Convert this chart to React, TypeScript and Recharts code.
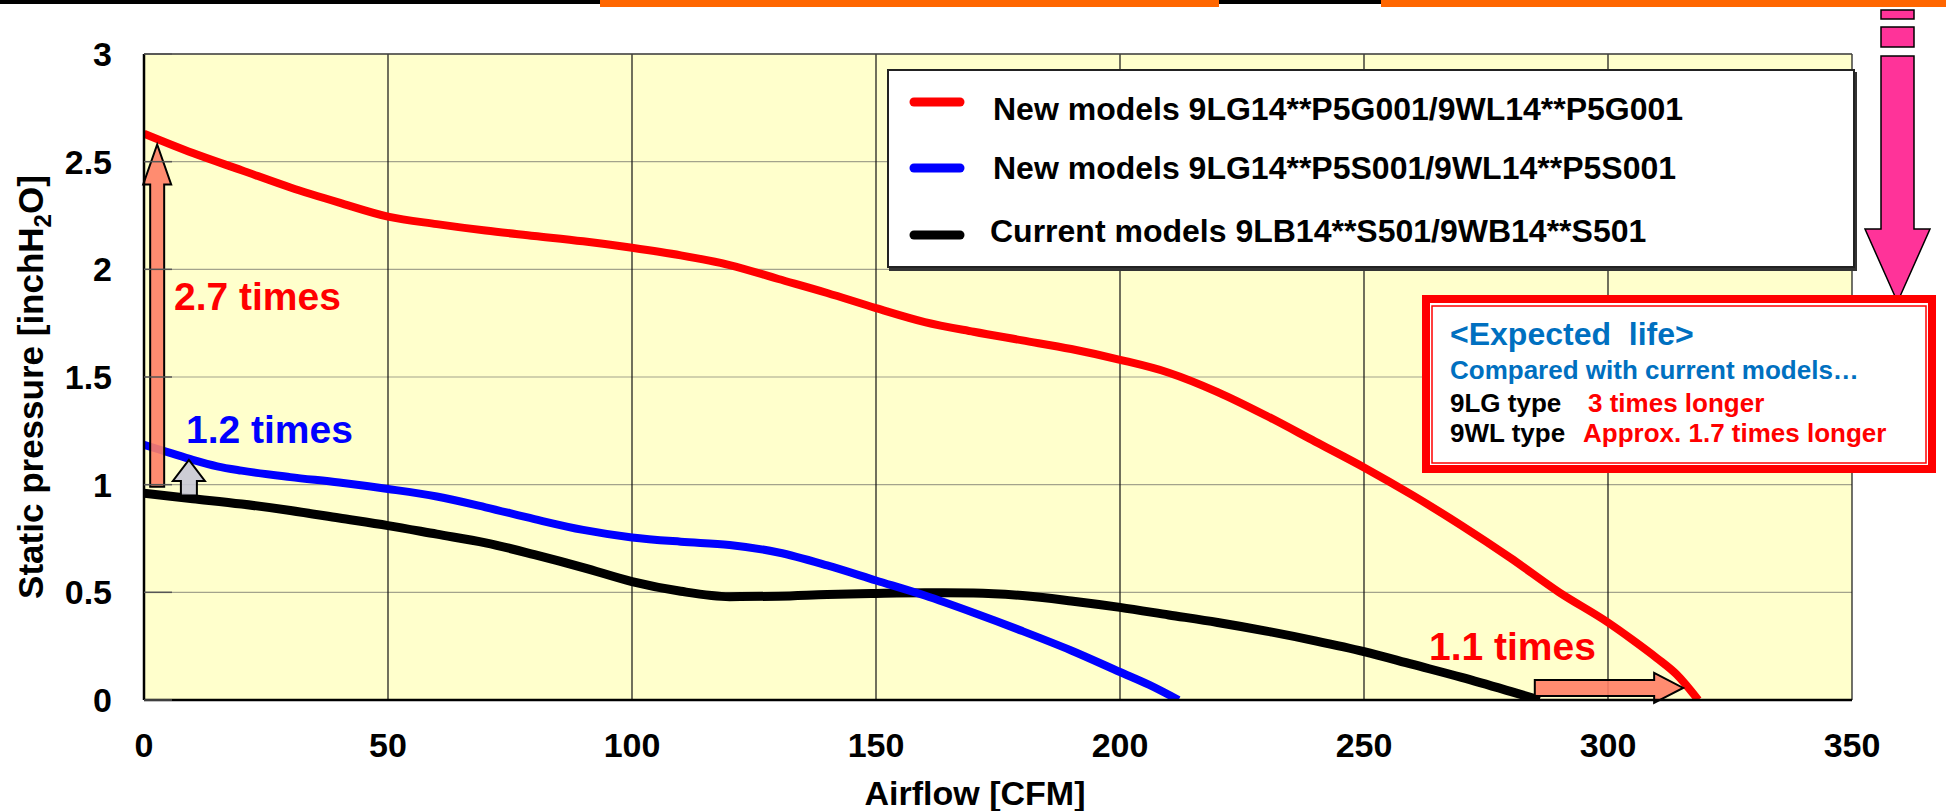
import React from 'react';
import { LineChart, Line, XAxis, YAxis, CartesianGrid, Legend, ReferenceLine } from 'recharts';

const FONT = "'Liberation Sans', Arial, Helvetica, sans-serif";

const seriesNames = [
  'New models 9LG14**P5G001/9WL14**P5G001',
  'New models 9LG14**P5S001/9WL14**P5S001',
  'Current models 9LB14**S501/9WB14**S501',
];
const seriesColors = ['#ff0000', '#0000ff', '#000000'];

const xTicks = [0, 50, 100, 150, 200, 250, 300, 350];
const yTicks = [0, 0.5, 1, 1.5, 2, 2.5, 3];

// airflow [CFM] / static pressure [inchH2O]
const redFlow = [0, 10, 20, 30, 40, 50, 60, 70, 80, 90, 100, 110, 120, 130, 140, 150, 160, 170, 180, 190, 200, 210, 220, 230, 240, 250, 260, 270, 280, 290, 300, 305, 310, 314, 318.5];
const redPressure = [2.63, 2.54, 2.46, 2.38, 2.31, 2.245, 2.21, 2.18, 2.155, 2.13, 2.1, 2.065, 2.02, 1.955, 1.89, 1.82, 1.755, 1.71, 1.67, 1.63, 1.58, 1.52, 1.43, 1.32, 1.2, 1.08, 0.95, 0.81, 0.66, 0.5, 0.36, 0.28, 0.195, 0.12, 0];

const blueFlow = [0, 5, 10, 15, 20, 30, 40, 50, 60, 70, 80, 90, 100, 110, 120, 130, 140, 150, 160, 170, 180, 190, 200, 206, 212];
const bluePressure = [1.185, 1.15, 1.115, 1.085, 1.065, 1.035, 1.01, 0.98, 0.945, 0.895, 0.84, 0.79, 0.755, 0.735, 0.72, 0.685, 0.625, 0.555, 0.485, 0.405, 0.32, 0.23, 0.13, 0.07, 0];

const blackFlow = [0, 10, 20, 30, 40, 50, 60, 70, 80, 90, 100, 110, 120, 130, 140, 150, 160, 170, 180, 190, 200, 210, 220, 230, 240, 250, 260, 270, 280, 286];
const blackPressure = [0.96, 0.935, 0.91, 0.88, 0.845, 0.81, 0.77, 0.73, 0.675, 0.615, 0.55, 0.505, 0.48, 0.482, 0.49, 0.495, 0.498, 0.497, 0.485, 0.46, 0.43, 0.395, 0.36, 0.32, 0.275, 0.225, 0.165, 0.105, 0.04, 0];

// comparison arrows (data coordinates)
const gainArrowStart = [{ x: 2.7, y: 0.99 }, { x: 9.2, y: 0.95 }, { x: 285, y: 0.056 }];
const gainArrowEnd = [{ x: 2.7, y: 2.58 }, { x: 9.2, y: 1.115 }, { x: 315.4, y: 0.056 }];
const gainLabels = ['2.7 times', '1.2 times', '1.1 times'];

const toPoints = (xs: number[], ys: number[]) => xs.map((x, i) => ({ x, y: ys[i] }));
const redData = toPoints(redFlow, redPressure);
const blueData = toPoints(blueFlow, bluePressure);
const blackData = toPoints(blackFlow, blackPressure);

const blockArrow = (fill: string, body: number, head: number, headLen: number) => (p: any) => {
  const x1 = Number(p.x1), y1 = Number(p.y1), x2 = Number(p.x2), y2 = Number(p.y2);
  const dx = x2 - x1;
  const dy = y2 - y1;
  const len = Math.hypot(dx, dy) || 1;
  const ux = dx / len, uy = dy / len;
  const nx = -uy, ny = ux;
  const kx = x1 + ux * (len - headLen), ky = y1 + uy * (len - headLen);
  const pts = [
    [x1 + (nx * body) / 2, y1 + (ny * body) / 2],
    [kx + (nx * body) / 2, ky + (ny * body) / 2],
    [kx + (nx * head) / 2, ky + (ny * head) / 2],
    [x2, y2],
    [kx - (nx * head) / 2, ky - (ny * head) / 2],
    [kx - (nx * body) / 2, ky - (ny * body) / 2],
    [x1 - (nx * body) / 2, y1 - (ny * body) / 2],
  ];
  return (
    <polygon
      points={pts.map((q) => q.join(',')).join(' ')}
      fill={fill}
      fillOpacity={0.9}
      stroke="#000"
      strokeWidth={2}
    />
  );
};

const arrowStyles = [
  blockArrow('#ff7f66', 14, 28, 40),
  blockArrow('#c8c8d6', 16, 32, 21),
  blockArrow('#ff7f66', 16, 30, 29),
];

const legendRows = [
  { line: 31, base: 49, text: 104 },
  { line: 97, base: 108, text: 104 },
  { line: 164, base: 171, text: 101 },
];

const renderLegend = (props: any) => {
  const payload = [...(props.payload || [])].sort(
    (a: any, b: any) => seriesNames.indexOf(a.value) - seriesNames.indexOf(b.value)
  );
  return (
    <div
      style={{
        width: 968,
        height: 199,
        boxSizing: 'border-box',
        border: '2px solid #222',
        boxShadow: '2px 3px 0 #333',
        background: '#fff',
      }}
    >
      <svg width={964} height={195} style={{ display: 'block' }}>
        {payload.map((entry: any, i: number) => {
          const row = legendRows[i];
          return (
            <g key={entry.value}>
              <line x1={25} x2={71} y1={row.line} y2={row.line} stroke={entry.color} strokeWidth={9} strokeLinecap="round" />
              <text x={row.text} y={row.base} fontFamily={FONT} fontWeight="bold" fontSize={32} fill="#000">
                {entry.value}
              </text>
            </g>
          );
        })}
      </svg>
    </div>
  );
};

const gainLabelStyle = [
  { x: 174, y: 310, fill: '#ff0000' },
  { x: 186, y: 443, fill: '#0000ff' },
  { x: 1429, y: 660, fill: '#ff0000' },
];

export default function App() {
  const tickFont = { fontSize: 34, fontWeight: 'bold', fill: '#000', fontFamily: FONT };
  return (
    <div style={{ position: 'absolute', left: 0, top: 0, width: 1946, height: 811, background: '#fff', overflow: 'hidden' }}>
      <LineChart width={1946} height={811} margin={{ top: 54, right: 94, bottom: 51, left: 44 }}>
        <CartesianGrid
          fill="#ffffcc"
          fillOpacity={1}
          horizontal={(p: any) => (
            <line key={p.key} x1={p.x1} y1={p.y1} x2={p.x2} y2={p.y2} stroke="#a3a38c" strokeWidth={1.2} />
          )}
          vertical={(p: any) => (
            <line key={p.key} x1={p.x1} y1={p.y1} x2={p.x2} y2={p.y2} stroke="#111" strokeWidth={1.2} />
          )}
        />
        <XAxis
          type="number"
          dataKey="x"
          domain={[0, 350]}
          ticks={xTicks}
          allowDataOverflow
          height={60}
          tickLine={false}
          tickSize={0}
          tickMargin={33}
          axisLine={{ stroke: '#000', strokeWidth: 2.5 }}
          tick={tickFont}
          interval={0}
        />
        <YAxis
          type="number"
          dataKey="y"
          domain={[0, 3]}
          ticks={yTicks}
          allowDataOverflow
          width={100}
          tickSize={-28}
          tickMargin={60}
          tickLine={{ stroke: '#555', strokeWidth: 1.5 }}
          axisLine={{ stroke: '#000', strokeWidth: 2.5 }}
          tick={tickFont}
          interval={0}
        />
        <ReferenceLine y={3} stroke="#444" strokeWidth={1.5} />
        <Legend
          layout="horizontal"
          verticalAlign="middle"
          align="center"
          content={renderLegend}
          wrapperStyle={{ left: 887, top: 69, width: 968, height: 199 }}
        />
        <Line data={blackData} dataKey="y" name={seriesNames[2]} type="monotone" stroke={seriesColors[2]} strokeWidth={9} dot={false} activeDot={false} isAnimationActive={false} />
        <Line data={blueData} dataKey="y" name={seriesNames[1]} type="monotone" stroke={seriesColors[1]} strokeWidth={8} dot={false} activeDot={false} isAnimationActive={false} />
        <Line data={redData} dataKey="y" name={seriesNames[0]} type="monotone" stroke={seriesColors[0]} strokeWidth={8} dot={false} activeDot={false} isAnimationActive={false} />
        {gainArrowStart.map((start, i) => (
          <ReferenceLine key={gainLabels[i]} segment={[start, gainArrowEnd[i]]} shape={arrowStyles[i]} ifOverflow="visible" />
        ))}
      </LineChart>

      <svg width={1946} height={811} style={{ position: 'absolute', left: 0, top: 0, pointerEvents: 'none' }}>
        {/* slide remnants along the top edge */}
        <rect x={0} y={0} width={1381} height={4} fill="#000" />
        <rect x={600} y={0} width={619} height={7} fill="#ff6600" />
        <rect x={1381} y={0} width={565} height={7} fill="#ff6600" />

        <text
          transform="translate(43,387) rotate(-90)"
          textAnchor="middle"
          fontFamily={FONT}
          fontWeight="bold"
          fontSize={35}
          fill="#000"
        >
          Static pressure [inchH<tspan fontSize={24} dy={8}>2</tspan>
          <tspan dy={-8}>O]</tspan>
        </text>
        <text x={975} y={805} textAnchor="middle" fontFamily={FONT} fontWeight="bold" fontSize={34} fill="#000">
          Airflow [CFM]
        </text>

        {gainLabels.map((label, i) => (
          <text key={label} x={gainLabelStyle[i].x} y={gainLabelStyle[i].y} fontFamily={FONT} fontWeight="bold" fontSize={39} fill={gainLabelStyle[i].fill}>
            {label}
          </text>
        ))}

        {/* pink pointer */}
        <rect x={1881} y={10} width={33} height={9} fill="#ff3399" stroke="#000" strokeWidth={1.5} />
        <rect x={1881} y={27} width={33} height={20} fill="#ff3399" stroke="#000" strokeWidth={1.5} />
        <polygon
          points="1881,56 1914,56 1914,229 1930,229 1897.5,302 1865,229 1881,229"
          fill="#ff3399"
          stroke="#000"
          strokeWidth={1.5}
        />

        {/* expected life box */}
        <rect x={1426} y={299} width={506} height={170} fill="#fff" stroke="#ff0000" strokeWidth={8} />
        <rect x={1432} y={306} width={494} height={157} fill="none" stroke="#ff0000" strokeWidth={1.5} />
        <g fontFamily={FONT} fontWeight="bold">
          <text x={1450} y={345} fontSize={32} fill="#0070c0" style={{ whiteSpace: 'pre' }}>
            {'<Expected  life>'}
          </text>
          <text x={1450} y={379} fontSize={26} fill="#0070c0">
            Compared with current models…
          </text>
          <text x={1450} y={412} fontSize={26} fill="#000">9LG type</text>
          <text x={1588} y={412} fontSize={26} fill="#ff0000">3 times longer</text>
          <text x={1450} y={442} fontSize={26} fill="#000">9WL type</text>
          <text x={1583} y={442} fontSize={26} fill="#ff0000">Approx. 1.7 times longer</text>
        </g>
      </svg>
    </div>
  );
}
